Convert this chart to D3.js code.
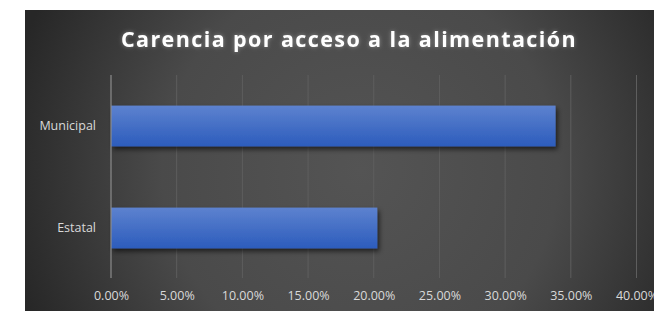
<!DOCTYPE html>
<html>
<head>
<meta charset="utf-8">
<script src="https://cdn.jsdelivr.net/npm/d3@7"></script>
<style>
  body { margin: 0; background: #fff; }
  svg { display: block; }
</style>
</head>
<body>
<div id="chart"></div>
<script>
// values
var categories = ["Municipal", "Estatal"];
var values = [0.3384, 0.2027];
var xTicks = [0, 0.05, 0.10, 0.15, 0.20, 0.25, 0.30, 0.35, 0.40];
var title = "Carencia por acceso a la alimentación";

var W = 654, H = 311;
var svg = d3.select("#chart").append("svg")
    .attr("width", W)
    .attr("height", H);

var defs = svg.append("defs");

// dark radial background like excel's style
var bg = defs.append("radialGradient")
    .attr("id", "bg")
    .attr("gradientUnits", "userSpaceOnUse")
    .attr("cx", 360).attr("cy", 170).attr("r", 360);
bg.append("stop").attr("offset", "0%").attr("stop-color", "#545454");
bg.append("stop").attr("offset", "55%").attr("stop-color", "#4a4a4a");
bg.append("stop").attr("offset", "100%").attr("stop-color", "#272727");

var barGrad = defs.append("linearGradient")
    .attr("id", "barGrad")
    .attr("x1", 0).attr("y1", 0).attr("x2", 0).attr("y2", 1);
barGrad.append("stop").attr("offset", "0%").attr("stop-color", "#5d82cf");
barGrad.append("stop").attr("offset", "100%").attr("stop-color", "#2c5cbc");

var shadow = defs.append("filter").attr("id", "shadow")
    .attr("x", "-5%").attr("y", "-20%").attr("width", "115%").attr("height", "160%");
shadow.append("feDropShadow")
    .attr("dx", 2).attr("dy", 3).attr("stdDeviation", 2.5)
    .attr("flood-color", "#000").attr("flood-opacity", 0.6);

var glow = defs.append("filter").attr("id", "glow")
    .attr("x", "-10%").attr("y", "-50%").attr("width", "120%").attr("height", "200%");
glow.append("feGaussianBlur").attr("in", "SourceAlpha").attr("stdDeviation", 2.2).attr("result", "b");
glow.append("feFlood").attr("flood-color", "#ffffff").attr("flood-opacity", 0.35);
glow.append("feComposite").attr("in2", "b").attr("operator", "in").attr("result", "g");
var mg = glow.append("feMerge");
mg.append("feMergeNode").attr("in", "g");
mg.append("feMergeNode").attr("in", "SourceGraphic");

svg.append("rect")
    .attr("x", 25).attr("y", 10)
    .attr("width", W - 25).attr("height", H - 10)
    .attr("fill", "url(#bg)");

var x = d3.scaleLinear()
    .domain([0, 0.40])
    .range([111, 636.5]);

var y = d3.scaleBand()
    .domain(categories)
    .range([75, 279])
    .paddingInner(0.6)
    .paddingOuter(0.3);

var plotTop = 75, plotBottom = 278;

// gridlines
svg.append("g")
  .selectAll("line")
  .data(xTicks.slice(1))
  .enter().append("line")
    .attr("x1", function(d) { return x(d); })
    .attr("x2", function(d) { return x(d); })
    .attr("y1", plotTop).attr("y2", plotBottom)
    .attr("stroke", "#5e5e5e")
    .attr("stroke-width", 1);

// bars
svg.append("g")
  .selectAll("rect")
  .data(values)
  .enter().append("rect")
    .attr("x", x(0))
    .attr("y", function(d, i) { return y(categories[i]); })
    .attr("width", function(d) { return x(d) - x(0); })
    .attr("height", y.bandwidth())
    .attr("fill", "url(#barGrad)")
    .attr("filter", "url(#shadow)");

// vertical axis line
svg.append("line")
    .attr("x1", x(0)).attr("x2", x(0))
    .attr("y1", plotTop).attr("y2", plotBottom)
    .attr("stroke", "#8c8c8c")
    .attr("stroke-width", 1.2);

// category labels
var yAxis = d3.axisLeft(y).tickSize(0).tickPadding(15);
svg.append("g")
    .attr("transform", "translate(" + x(0) + ",0)")
    .call(yAxis)
    .call(function(g) { g.select(".domain").remove(); })
    .selectAll("text")
    .attr("fill", "#d9d9d9")
    .attr("font-family", "'Open Sans', sans-serif")
    .attr("font-size", 12.5);

// x tick labels
var xAxis = d3.axisBottom(x)
    .tickValues(xTicks)
    .tickFormat(d3.format(".2%"))
    .tickSize(0)
    .tickPadding(0);
svg.append("g")
    .attr("transform", "translate(0,291)")
    .call(xAxis)
    .call(function(g) { g.select(".domain").remove(); })
    .selectAll("text")
    .attr("fill", "#d9d9d9")
    .attr("font-family", "'Open Sans', sans-serif")
    .attr("font-size", 12.5);

// title
svg.append("text")
    .attr("x", 349)
    .attr("y", 47)
    .attr("text-anchor", "middle")
    .attr("fill", "#ffffff")
    .attr("font-family", "'Open Sans', sans-serif")
    .attr("font-weight", "bold")
    .attr("font-size", 21.5)
    .attr("letter-spacing", 1.4)
    .attr("filter", "url(#glow)")
    .text(title);
</script>
</body>
</html>
